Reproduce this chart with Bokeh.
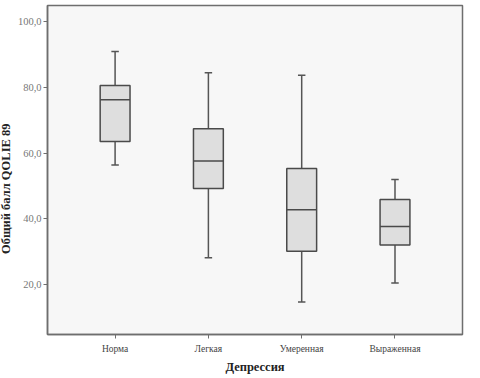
from bokeh.plotting import figure
from bokeh.models import Range1d, FixedTicker, ColumnDataSource
from bokeh.embed import file_html
from bokeh.resources import INLINE

categories = ["Норма", "Легкая", "Умеренная", "Выраженная"]
whisker_low = [56.4, 28.2, 14.8, 20.5]
q1 = [63.5, 49.2, 30.2, 32.1]
median = [76.2, 57.6, 42.8, 37.7]
q3 = [80.5, 67.4, 55.3, 45.9]
whisker_high = [90.8, 84.4, 83.6, 52.0]
y_ticks = [20, 40, 60, 80, 100]
y_tick_labels = ["20,0", "40,0", "60,0", "80,0", "100,0"]
y_title = "Общий балл QOLIE 89"
x_title = "Депрессия"

pos = list(range(1, len(categories) + 1))
box_w = 0.32
cap_w = 0.08

src = ColumnDataSource(dict(
    x=pos, lo=whisker_low, q1=q1, med=median, q3=q3, hi=whisker_high,
    bx0=[p - box_w / 2 for p in pos], bx1=[p + box_w / 2 for p in pos],
    cx0=[p - cap_w / 2 for p in pos], cx1=[p + cap_w / 2 for p in pos],
))

p = figure(frame_width=415, frame_height=329, output_backend="svg", toolbar_location=None,
           x_range=Range1d(0.2755, 4.7235), y_range=Range1d(4.9, 104.8),
           min_border_left=0, min_border_top=5, min_border_right=8, min_border_bottom=0)
p.styles = {"margin-left": "-5px", "margin-top": "0px"}

p.background_fill_color = "#f7f7f7"
p.border_fill_color = "white"
p.outline_line_color = "#6e6e6e"
p.outline_line_width = 1.5
p.grid.visible = False

line_col = "#555555"
p.segment(x0="x", y0="lo", x1="x", y1="q1", source=src, line_color=line_col, line_width=1.5)
p.segment(x0="x", y0="q3", x1="x", y1="hi", source=src, line_color=line_col, line_width=1.5)
p.segment(x0="cx0", y0="lo", x1="cx1", y1="lo", source=src, line_color=line_col, line_width=1.5)
p.segment(x0="cx0", y0="hi", x1="cx1", y1="hi", source=src, line_color=line_col, line_width=1.5)
p.vbar(x="x", width=box_w, bottom="q1", top="q3", source=src,
       fill_color="#dedede", line_color="#4a4a4a", line_width=1.5)
p.segment(x0="bx0", y0="med", x1="bx1", y1="med", source=src, line_color="#4a4a4a", line_width=1.5)

font = "Liberation Serif"
for ax in (p.xaxis[0], p.yaxis[0]):
    ax.axis_line_color = "#6e6e6e"
    ax.axis_line_width = 1.5
    ax.major_tick_line_color = "#6e6e6e"
    ax.major_tick_out = 4
    ax.major_tick_in = 0
    ax.minor_tick_line_color = None
    ax.major_label_text_font = font
    ax.axis_label_text_font = font
    ax.axis_label_text_font_size = "12.5px"
    ax.axis_label_text_font_style = "bold"
    ax.axis_label_text_color = "#222222"

p.xaxis.ticker = FixedTicker(ticks=pos)
p.xaxis.major_label_overrides = {p_: c for p_, c in zip(pos, categories)}
p.xaxis.major_label_text_font_size = "9.5px"
p.xaxis.major_label_text_color = "#444444"
p.xaxis.axis_label = x_title
p.xaxis.axis_label_standoff = 3
p.xaxis.major_label_standoff = 5

p.yaxis.ticker = FixedTicker(ticks=y_ticks)
p.yaxis.major_label_overrides = {t: l for t, l in zip(y_ticks, y_tick_labels)}
p.yaxis.major_label_text_font_size = "10.5px"
p.yaxis.major_label_text_color = "#777777"
# trailing no-break spaces push the visible title a little below the frame centre
p.yaxis.axis_label = y_title + "\u00a0" * 12
p.yaxis.axis_label_standoff = 2
p.yaxis.major_label_standoff = 2

open("out.html", "w").write(file_html(p, INLINE))
